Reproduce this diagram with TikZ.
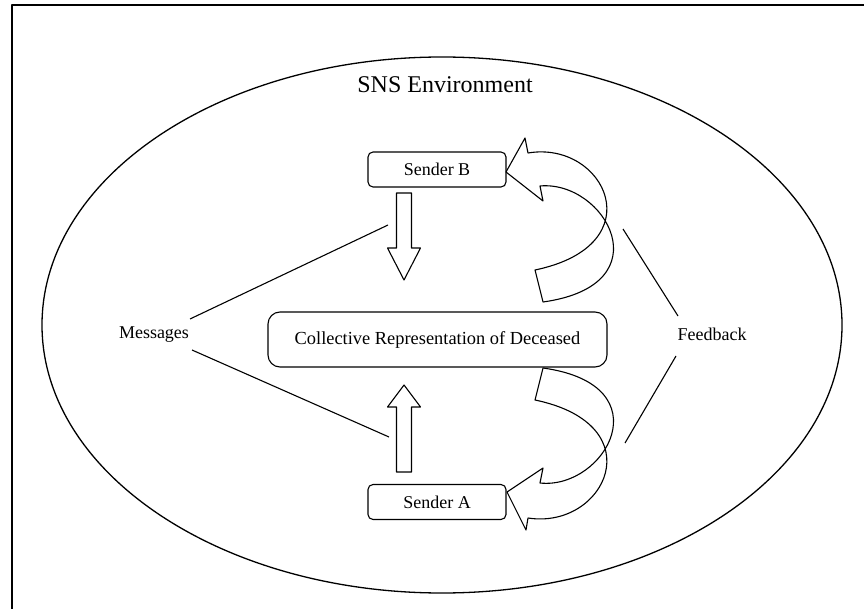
\documentclass[tikz,border=0pt]{standalone}
\usepackage{fontspec}
\setmainfont{Liberation Serif}
\begin{document}
\begin{tikzpicture}[x=1pt,y=-1pt, line join=round,
  box/.style={draw, rounded corners=5pt, line width=1.1pt, minimum width=138pt, minimum height=35pt, font=\fontsize{18}{20}\selectfont, inner sep=0pt},
  lbl/.style={font=\fontsize{18}{20}\selectfont, inner sep=0pt},
  ln/.style={line width=1.1pt},
  blk/.style={draw, line width=1.1pt, fill=white}]
\useasboundingbox (0,0) rectangle (864,609);
\draw[line width=1.6pt] (12,609) -- (12,5) -- (864,5);
\draw[line width=1.3pt] (442,325) ellipse [x radius=400pt, y radius=268pt];
\node[lbl, font=\fontsize{24}{26}\selectfont] (title) at (445,85) {SNS Environment};
\node[box] (sb) at (437,169.5) {Sender B};
\node[box] (sa) at (437,502) {Sender A};
\node[box, rounded corners=12pt, minimum width=339pt, minimum height=55pt, font=\fontsize{18.4}{20}\selectfont] (crd) at (437.5,339.5) {Collective Representation of Deceased};
\node[lbl] (msg) at (154,335) {Messages};
\node[lbl] (fb) at (712,334) {Feedback};
% block arrows
\draw[blk] (396.5,193) -- (411.5,193) -- (411.5,248) -- (420.5,248) -- (404,280) -- (387.5,248) -- (396.5,248) -- cycle;
\draw[blk] (396.5,472) -- (411.5,472) -- (411.5,407) -- (420.5,407) -- (404,385) -- (387.5,407) -- (396.5,407) -- cycle;
% message lines
\coordinate (m1) at (190,319);
\coordinate (m2) at (388,225);
\coordinate (m3) at (192,350);
\coordinate (m4) at (389,437);
\draw[ln] (m1) -- (m2);
\draw[ln] (m3) -- (m4);
% feedback lines
\coordinate (f1) at (623,229);
\coordinate (f2) at (678,316);
\coordinate (f3) at (676,356);
\coordinate (f4) at (625,443);
\draw[ln] (f1) -- (f2);
\draw[ln] (f3) -- (f4);
% curved arrows
\draw[ln] (528,153) -- (525,138) -- (506,172) -- (543,201) -- (540,186)
  .. controls (605,180) and (665,285) .. (543,302) -- (535,270)
  .. controls (655,245) and (605,140) .. cycle;
\draw[ln] (528,518) -- (526,530) -- (507,492) -- (543,468) -- (540,483)
  .. controls (605,490) and (665,385) .. (543,368) -- (535,400)
  .. controls (655,425) and (605,530) .. cycle;
\end{tikzpicture}
\end{document}
